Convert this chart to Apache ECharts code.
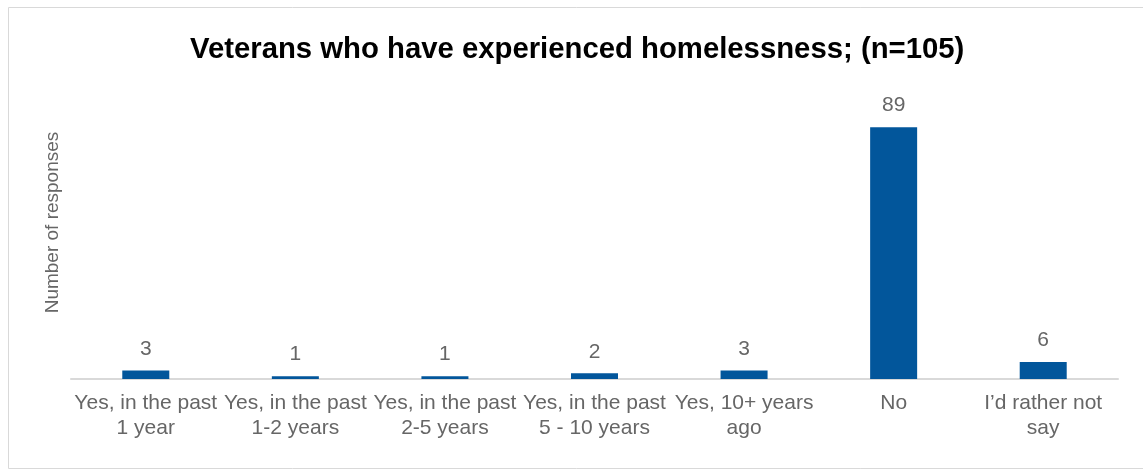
<!DOCTYPE html>
<html>
<head>
<meta charset="utf-8">
<script src="https://cdn.jsdelivr.net/npm/echarts@6/dist/echarts.min.js"></script>
<style>
  html, body { margin: 0; padding: 0; background: #fff; }
  #chart { width: 1143px; height: 471px; }
</style>
</head>
<body>
<div id="chart"></div>
<script>
var categories = [
    "Yes, in the past\n1 year",
    "Yes, in the past\n1-2 years",
    "Yes, in the past\n2-5 years",
    "Yes, in the past\n5 - 10 years",
    "Yes, 10+ years\nago",
    "No",
    "I\u2019d rather not\nsay"
];
var responses = [3, 1, 1, 2, 3, 89, 6];
var titleText = "Veterans who have experienced homelessness; (n=105)";
var yName = "Number of responses";

var myChart = echarts.init(document.getElementById("chart"));
var option = {
    animation: false,
    textStyle: { fontFamily: "Liberation Sans, Arial, sans-serif" },
    title: {
        text: titleText,
        left: 185,
        top: 30,
        textStyle: { fontSize: 29.3, fontWeight: "bold", color: "#000" }
    },
    graphic: [{
        type: "rect",
        shape: { x: 8.5, y: 7.5, width: 1140, height: 461 },
        style: { fill: null, stroke: "#d9d9d9", lineWidth: 1 },
        silent: true
    }],
    grid: { left: 71, right: 25, top: 96, bottom: 92 },
    xAxis: {
        type: "category",
        data: categories,
        axisLine: { lineStyle: { color: "#d9d9d9", width: 2 } },
        axisTick: { show: false },
        axisLabel: {
            interval: 0,
            margin: 12,
            fontSize: 21,
            lineHeight: 25,
            color: "#666666"
        }
    },
    yAxis: {
        type: "value",
        min: 0,
        max: 100,
        name: yName,
        nameLocation: "middle",
        nameGap: 9,
        nameTextStyle: { fontSize: 19, color: "#666666", padding: [0, 0, 0, 30] },
        axisLine: { show: false },
        axisTick: { show: false },
        axisLabel: { show: false },
        splitLine: { show: false }
    },
    series: [{
        type: "bar",
        data: responses,
        barWidth: 47,
        itemStyle: { color: "#02569b" },
        label: {
            show: true,
            position: "top",
            distance: 11,
            fontSize: 21,
            color: "#666666"
        }
    }]
};
myChart.setOption(option);
</script>
</body>
</html>
